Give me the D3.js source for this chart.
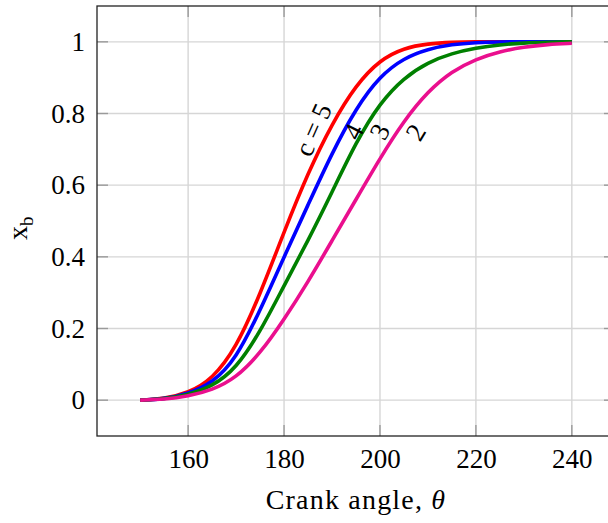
<!DOCTYPE html>
<html>
<head>
<meta charset="utf-8">
<title>Burned fraction vs crank angle</title>
<script src="https://d3js.org/d3.v7.min.js"></script>
<style>
  body { margin: 0; background: #fff; }
  svg text { font-family: "Liberation Serif", "DejaVu Serif", serif; fill: #000; }
</style>
</head>
<body>
<div id="chart"></div>
<script>
// values, every 5 degrees
var angles = [150, 155, 160, 165, 170, 175, 180, 185, 190, 195, 200, 205, 210, 215, 220, 225, 230, 235, 240];
var xbC5 = [0, 0.004, 0.02, 0.058, 0.145, 0.295, 0.47, 0.635, 0.772, 0.88, 0.95, 0.983, 0.995, 0.999, 1, 1, 1, 1, 1];
var xbC4 = [0, 0.003, 0.018, 0.047, 0.115, 0.25, 0.40, 0.545, 0.69, 0.815, 0.905, 0.955, 0.98, 0.993, 0.998, 1, 1, 1, 1];
var xbC3 = [0, 0.003, 0.015, 0.038, 0.088, 0.19, 0.32, 0.445, 0.58, 0.72, 0.83, 0.9, 0.943, 0.968, 0.983, 0.992, 0.997, 0.999, 1];
var xbC2 = [0, 0.002, 0.011, 0.028, 0.062, 0.13, 0.225, 0.33, 0.445, 0.56, 0.675, 0.78, 0.862, 0.918, 0.952, 0.973, 0.986, 0.993, 0.996];

var xTicks = [160, 180, 200, 220, 240];
var yTicks = [0, 0.2, 0.4, 0.6, 0.8, 1];
var yTickLabels = ["0", "0.2", "0.4", "0.6", "0.8", "1"];

// curve labels: text, anchor angle and burned fraction
var labelText = ["c = 5", "4", "3", "2"];
var labelAngle = [186, 194.4, 199.9, 207.4];
var labelXb = [0.755, 0.75, 0.75, 0.748];

var series = [
  {values: xbC5, color: "#ff0000"},
  {values: xbC4, color: "#0000ff"},
  {values: xbC3, color: "#008000"},
  {values: xbC2, color: "#ea0f8e"}
];
var labelRot = [-66, -63, -63, -59];

var width = 608, height = 523;
var margin = {left: 97, top: 6, right: -7, bottom: 87};
var w = width - margin.left - margin.right;
var h = height - margin.top - margin.bottom;

var svg = d3.select("#chart").append("svg")
  .attr("width", width)
  .attr("height", height);

var g = svg.append("g").attr("transform", "translate(" + margin.left + "," + margin.top + ")");

var x = d3.scaleLinear().domain([141, 249]).range([0, w]);
var y = d3.scaleLinear().domain([-0.1, 1.1]).range([h, 0]);

// grid
g.selectAll("line.gx").data(xTicks).enter().append("line")
  .attr("x1", function(d) { return x(d); }).attr("x2", function(d) { return x(d); })
  .attr("y1", 0).attr("y2", h)
  .attr("stroke", "#d6d6d6").attr("stroke-width", 1.4);
g.selectAll("line.gy").data(yTicks).enter().append("line")
  .attr("y1", function(d) { return y(d); }).attr("y2", function(d) { return y(d); })
  .attr("x1", 0).attr("x2", w)
  .attr("stroke", "#d6d6d6").attr("stroke-width", 1.4);

// inner ticks, both sides
var tl = 11;
xTicks.forEach(function(d) {
  g.append("line").attr("x1", x(d)).attr("x2", x(d)).attr("y1", h).attr("y2", h - tl)
    .attr("stroke", "#9a9a9a").attr("stroke-width", 1.4);
  g.append("line").attr("x1", x(d)).attr("x2", x(d)).attr("y1", 0).attr("y2", tl)
    .attr("stroke", "#9a9a9a").attr("stroke-width", 1.4);
});
yTicks.forEach(function(d) {
  g.append("line").attr("y1", y(d)).attr("y2", y(d)).attr("x1", 0).attr("x2", tl)
    .attr("stroke", "#9a9a9a").attr("stroke-width", 1.4);
  g.append("line").attr("y1", y(d)).attr("y2", y(d)).attr("x1", w).attr("x2", w - tl)
    .attr("stroke", "#9a9a9a").attr("stroke-width", 1.4);
});

// tick labels through d3 axes
var xAxis = g.append("g").attr("transform", "translate(0," + h + ")")
  .call(d3.axisBottom(x).tickValues(xTicks).tickSize(0).tickPadding(13));
var yAxis = g.append("g")
  .call(d3.axisLeft(y).tickValues(yTicks).tickSize(0).tickPadding(12)
    .tickFormat(function(d, i) { return yTickLabels[i]; }));
[xAxis, yAxis].forEach(function(a) {
  a.select(".domain").remove();
  a.selectAll("text").attr("font-size", 27).attr("font-family", "Liberation Serif, serif");
});

// curves
var line = d3.line()
  .x(function(d) { return x(d[0]); })
  .y(function(d) { return y(d[1]); })
  .curve(d3.curveBasis);

series.forEach(function(s) {
  g.append("path")
    .datum(angles.map(function(a, i) { return [a, s.values[i]]; }))
    .attr("d", line)
    .attr("fill", "none")
    .attr("stroke", s.color)
    .attr("stroke-width", 3.6)
    .attr("stroke-linecap", "butt");
});

// curve labels
labelText.forEach(function(t, i) {
  g.append("text")
    .attr("transform", "translate(" + x(labelAngle[i]) + "," + y(labelXb[i]) + ") rotate(" + labelRot[i] + ")")
    .attr("text-anchor", "middle")
    .attr("dy", "0.35em")
    .attr("font-size", 27)
    .style("white-space", "pre")
    .text(t);
});

// frame
g.append("rect").attr("x", 0).attr("y", 0).attr("width", w).attr("height", h)
  .attr("fill", "none").attr("stroke", "#222").attr("stroke-width", 1.3);

// axis titles
svg.append("text")
  .attr("x", margin.left + x(195))
  .attr("y", 509)
  .attr("text-anchor", "middle")
  .attr("font-size", 28)
  .attr("letter-spacing", 1.2)
  .text("Crank angle, ")
  .append("tspan").attr("font-style", "italic").text("θ");

var yl = svg.append("text")
  .attr("transform", "translate(27," + (margin.top + y(0.48)) + ") rotate(-90)")
  .attr("text-anchor", "middle")
  .attr("font-size", 28);
yl.append("tspan").text("x");
yl.append("tspan").attr("font-size", 19).attr("dy", 6).text("b");
</script>
</body>
</html>
